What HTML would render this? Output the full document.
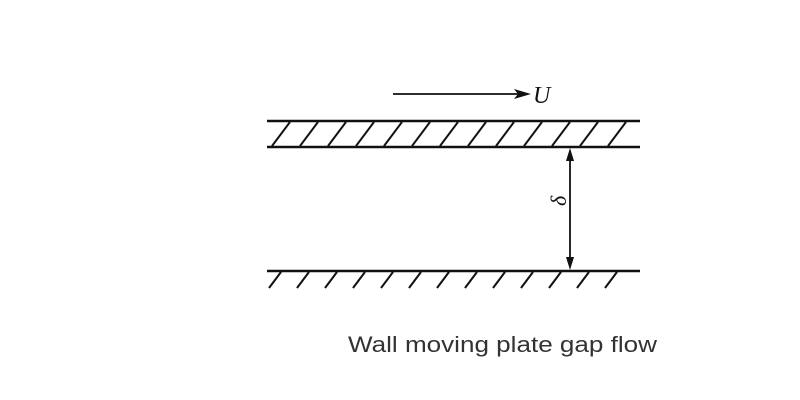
<!DOCTYPE html>
<html><head><meta charset="utf-8"><style>html,body{margin:0;padding:0;background:#fff}svg{display:block}</style></head>
<body>
<svg width="800" height="400" viewBox="0 0 800 400" xmlns="http://www.w3.org/2000/svg">
<g stroke="#111" fill="none">
<line x1="267" y1="121" x2="640" y2="121" stroke-width="2.5"/>
<line x1="267" y1="147" x2="640" y2="147" stroke-width="2.5"/>
<g stroke-width="2">
<line x1="272" y1="146" x2="290" y2="122"/>
<line x1="300" y1="146" x2="318" y2="122"/>
<line x1="328" y1="146" x2="346" y2="122"/>
<line x1="356" y1="146" x2="374" y2="122"/>
<line x1="384" y1="146" x2="402" y2="122"/>
<line x1="412" y1="146" x2="430" y2="122"/>
<line x1="440" y1="146" x2="458" y2="122"/>
<line x1="468" y1="146" x2="486" y2="122"/>
<line x1="496" y1="146" x2="514" y2="122"/>
<line x1="524" y1="146" x2="542" y2="122"/>
<line x1="552" y1="146" x2="570" y2="122"/>
<line x1="580" y1="146" x2="598" y2="122"/>
<line x1="608" y1="146" x2="626" y2="122"/>
</g>
<line x1="267" y1="271" x2="640" y2="271" stroke-width="2.5"/>
<g stroke-width="2">
<line x1="281" y1="272" x2="269" y2="288"/>
<line x1="309" y1="272" x2="297" y2="288"/>
<line x1="337" y1="272" x2="325" y2="288"/>
<line x1="365" y1="272" x2="353" y2="288"/>
<line x1="393" y1="272" x2="381" y2="288"/>
<line x1="421" y1="272" x2="409" y2="288"/>
<line x1="449" y1="272" x2="437" y2="288"/>
<line x1="477" y1="272" x2="465" y2="288"/>
<line x1="505" y1="272" x2="493" y2="288"/>
<line x1="533" y1="272" x2="521" y2="288"/>
<line x1="561" y1="272" x2="549" y2="288"/>
<line x1="589" y1="272" x2="577" y2="288"/>
<line x1="617" y1="272" x2="605" y2="288"/>
</g>
<line x1="393" y1="94" x2="520" y2="94" stroke-width="1.8"/>
<line x1="570" y1="158" x2="570" y2="262" stroke-width="1.8"/>
</g>
<g fill="#111">
<polygon points="531,94 514,89 518,94 514,99"/>
<polygon points="570,148 566,161 574,161"/>
<polygon points="570,270 566,257 574,257"/>
</g>
<text x="533" y="103" font-family="Liberation Serif, serif" font-style="italic" font-size="24" fill="#111">U</text>
<text transform="translate(566,206) rotate(-90)" font-family="Liberation Serif, serif" font-style="italic" font-size="22" fill="#111">δ</text>
<text x="348" y="352" font-family="Liberation Sans, sans-serif" font-size="22" fill="#333" textLength="309" lengthAdjust="spacingAndGlyphs">Wall moving plate gap flow</text>
</svg>
</body></html>
